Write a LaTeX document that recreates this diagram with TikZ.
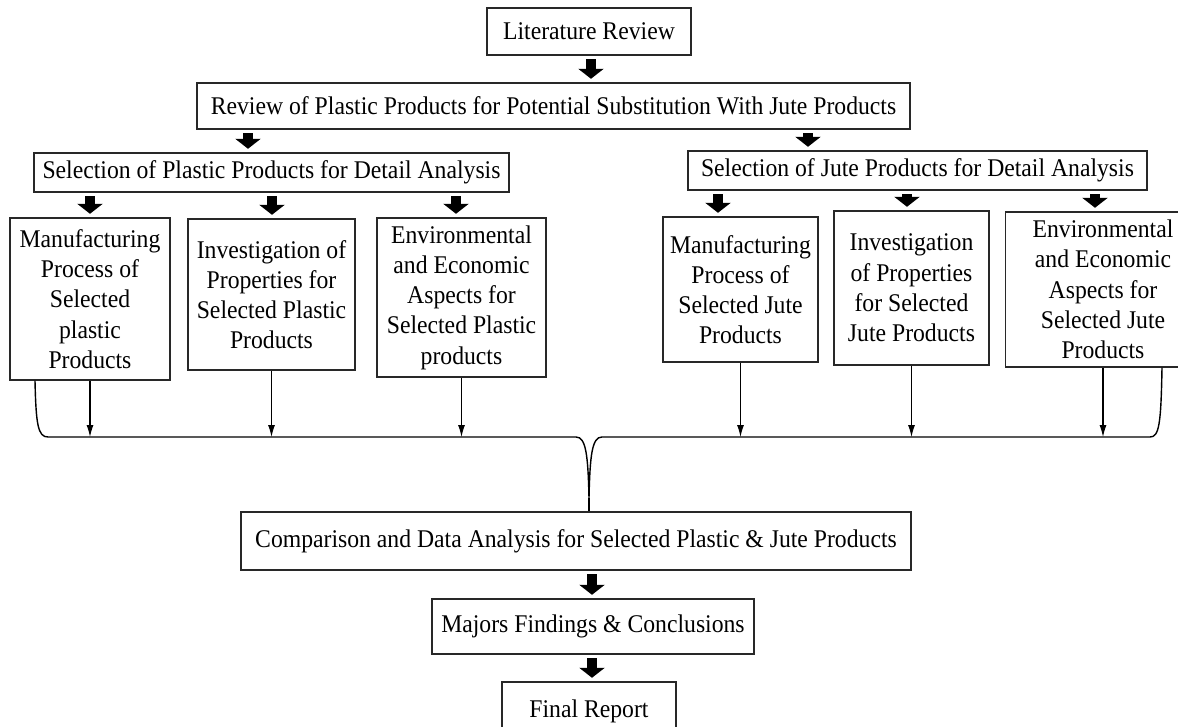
\documentclass[tikz,border=0pt]{standalone}
\usepackage{fontspec}
\setmainfont{Liberation Serif}[FakeStretch=0.93]
\usetikzlibrary{positioning, arrows.meta, calc}
\definecolor{boxline}{RGB}{40,40,40}

\begin{document}
\begin{tikzpicture}[
      x=0.02cm, y=-0.02cm,
      box/.style={rectangle, draw=boxline, line width=0.8pt, fill=white,
        align=center, inner sep=2pt, text centered,
        font=\fontsize{14.5}{17.2}\selectfont},
      bigarrow/.style={-{Triangle[width=0.5cm, length=0.2cm]}, line width=0.2cm,
        shorten <=2pt, shorten >=2pt},
      arrow/.style={-{Latex[length=2.4mm, width=1.4mm]}, line width=0.6pt},
      brace/.style={line width=0.8pt}
    ]
      \useasboundingbox (0,0) rectangle (1178,727);
      \clip (0,0) rectangle (1178,727);

      % Top
      \node[box, minimum width=4.08cm, minimum height=0.94cm] (lit) at (589,31.5) {Literature Review};
      \node[box, minimum width=14.26cm, minimum height=0.92cm] (review) at (553.5,106)
        {Review of Plastic Products for Potential Substitution With Jute Products};

      % Selection
      \node[box, minimum width=9.5cm, minimum height=0.78cm] (selplastic) at (271.5,172.5)
        {Selection of Plastic Products for Detail Analysis};
      \node[box, minimum width=9.18cm, minimum height=0.78cm] (seljute) at (917.5,170.5)
        {Selection of Jute Products for Detail Analysis};

      % Plastic products
      \node[box, minimum width=3.2cm, minimum height=3.24cm] (pmanuf) at (90,299)
        {Manufacturing\\Process of\\Selected\\plastic\\Products};
      \node[box, minimum width=3.34cm, minimum height=3.02cm] (pprop) at (271.5,294.5)
        {Investigation of\\Properties for\\Selected Plastic\\Products};
      \node[box, minimum width=3.38cm, minimum height=3.18cm] (penv) at (461.5,297.5)
        {Environmental\\and Economic\\Aspects for\\Selected Plastic\\products};

      % Jute products
      \node[box, minimum width=3.1cm, minimum height=2.9cm] (jmanuf) at (740.5,289.5)
        {Manufacturing\\Process of\\Selected Jute\\Products};
      \node[box, minimum width=3.1cm, minimum height=3.08cm] (jprop) at (911.5,288)
        {Investigation\\of Properties\\for Selected\\Jute Products};
      \node[box, minimum width=3.9cm, minimum height=3.1cm] (jenv) at (1103,289.5)
        {Environmental\\and Economic\\Aspects for\\Selected Jute\\Products};

      % Bottom
      \node[box, minimum width=13.4cm, minimum height=1.16cm] (compare) at (576,541)
        {Comparison and Data Analysis for Selected Plastic \& Jute Products};
      \node[box, minimum width=6.44cm, minimum height=1.1cm] (findings) at (593,626.5)
        {Majors Findings \& Conclusions};
      \node[box, minimum width=3.48cm, minimum height=1.16cm] (final) at (589,711) {Final Report};

      % Block arrows
      \draw[bigarrow] (lit.south -| 591,0) -- (review.north -| 591,0);
      \draw[bigarrow] (review.south -| 248,0) -- (selplastic.north -| 248,0);
      \draw[bigarrow] (review.south -| 808,0) -- (seljute.north -| 808,0);
      \draw[bigarrow] (selplastic.south -| 90,0) -- (pmanuf.north -| 90,0);
      \draw[bigarrow] (selplastic.south -| 272,0) -- (pprop.north -| 272,0);
      \draw[bigarrow] (selplastic.south -| 456,0) -- (penv.north -| 456,0);
      \draw[bigarrow] (seljute.south -| 718,0) -- (jmanuf.north -| 718,0);
      \draw[bigarrow] (seljute.south -| 907,0) -- (jprop.north -| 907,0);
      \draw[bigarrow] (seljute.south -| 1095,0) -- (jenv.north -| 1095,0);
      \draw[bigarrow] (compare.south -| 592,0) -- (findings.north -| 592,0);
      \draw[bigarrow] (findings.south -| 592,0) -- (final.north -| 592,0);

      % Brace
      \coordinate (bline) at (0,437);
      \coordinate (cusp) at (589,498);
      \draw[brace] (pmanuf.south -| 35,0) .. controls (36,425) and (38,437) .. (48,437)
        -- (576,437) .. controls (586,437) and (588,455) .. (cusp)
        .. controls (590,455) and (592,437) .. (602,437)
        -- (1150,437) .. controls (1159,437) and (1161,425) .. (jenv.south -| 1162,0);
      \draw[brace] (cusp) -- (compare.north -| cusp);

      % Connections
      \foreach \n in {pmanuf, pprop, penv, jmanuf, jprop, jenv}
        \draw[arrow] (\n.south) -- (\n.south |- bline);
    \end{tikzpicture}
\end{document}
